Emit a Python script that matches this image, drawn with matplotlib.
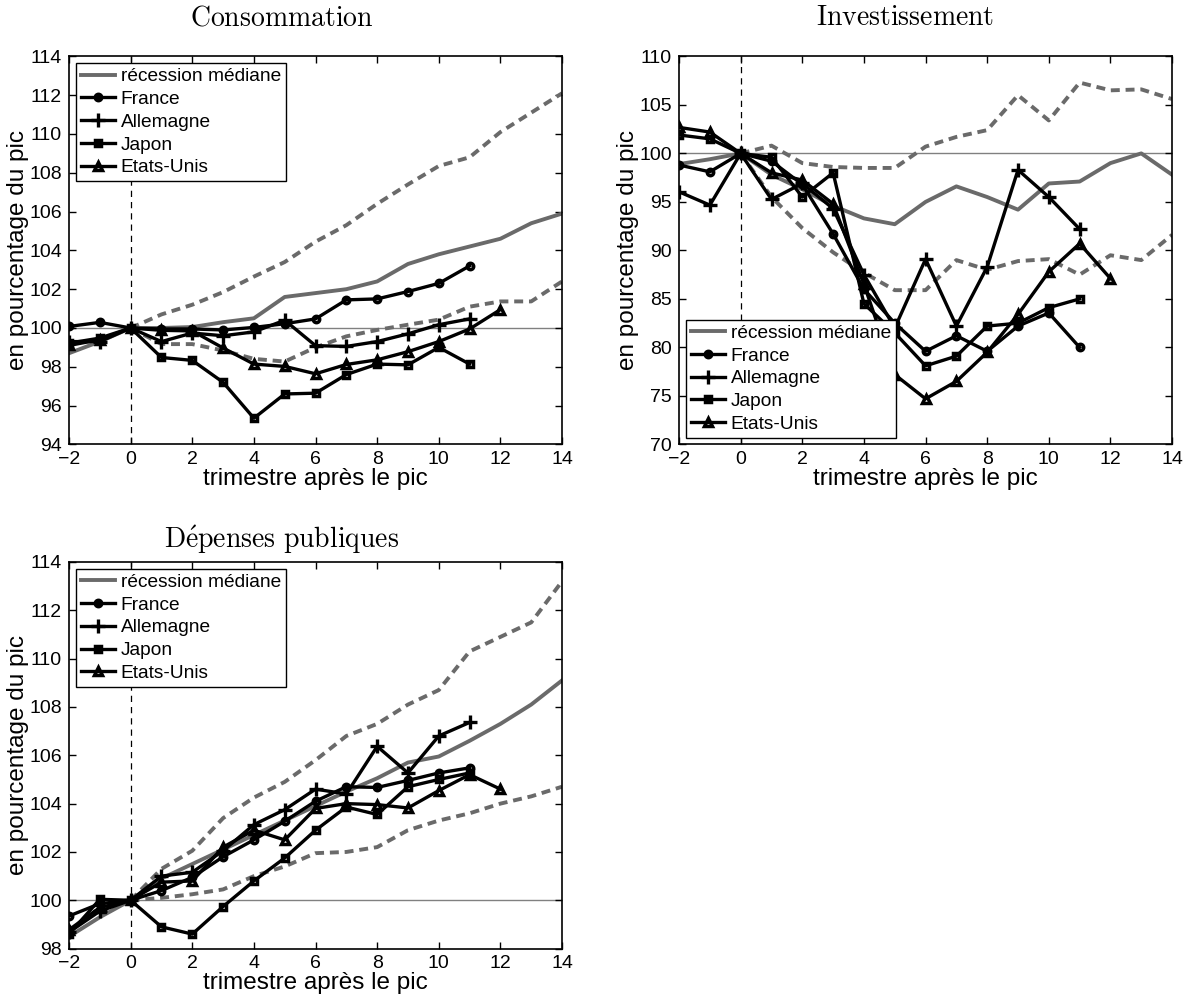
import numpy as np
import matplotlib
matplotlib.use("Agg")
import matplotlib.pyplot as plt

plt.rcParams['font.family'] = ['Liberation Sans', 'DejaVu Sans']
plt.rcParams['mathtext.fontset'] = 'cm'

GRIS = '#6a6a6a'

# trimestres autour du pic
t_pays = np.arange(-2, 12)        # -2 .. 11
t_eu = np.arange(-2, 13)          # -2 .. 12
t_med = np.arange(-2, 15)         # -2 .. 14
t_bande = np.arange(0, 15)        # 0 .. 14

# --- Consommation ---
cons_med = [98.7, 99.3, 100.0, 100.0, 100.05, 100.3, 100.5, 101.6, 101.8, 102.0, 102.4,
            103.3, 103.8, 104.2, 104.6, 105.4, 105.9]
cons_haut = [100.0, 100.7, 101.2, 101.85, 102.65, 103.4, 104.45, 105.3, 106.4, 107.4,
             108.35, 108.8, 110.1, 111.1, 112.1]
cons_bas = [100.0, 99.17, 99.17, 98.84, 98.41, 98.27, 99.0, 99.57, 99.9, 100.17, 100.43,
            101.1, 101.37, 101.37, 102.4]
cons_fr = [100.08, 100.29, 100.0, 99.95, 99.95, 99.9, 100.03, 100.22, 100.47, 101.45,
           101.5, 101.88, 102.3, 103.2]
cons_de = [99.3, 99.3, 100.0, 99.3, 99.74, 99.6, 99.8, 100.4, 99.09, 99.05, 99.3, 99.7,
           100.17, 100.47]
cons_jp = [99.22, 99.48, 100.0, 98.48, 98.33, 97.2, 95.35, 96.6, 96.64, 97.6, 98.14, 98.1,
           99.0, 98.14]
cons_us = [99.1, 99.4, 100.0, 99.88, 99.85, 98.97, 98.14, 98.02, 97.64, 98.12, 98.36,
           98.78, 99.3, 99.95, 100.95]

# --- Investissement ---
inv_med = [98.9, 99.4, 100.0, 97.8, 96.3, 94.6, 93.3, 92.7, 95.0, 96.6, 95.5, 94.2, 96.9,
           97.1, 99.0, 100.0, 97.8]
inv_haut = [100.0, 100.8, 99.0, 98.6, 98.5, 98.5, 100.7, 101.7, 102.4, 106.0, 103.4, 107.3,
            106.5, 106.6, 105.6]
inv_bas = [100.0, 95.5, 92.3, 89.8, 87.7, 85.9, 85.9, 89.0, 88.0, 88.9, 89.1, 87.5, 89.5,
           89.0, 91.6]
inv_fr = [98.8, 98.1, 100.0, 99.2, 96.8, 91.7, 86.0, 82.5, 79.6, 81.2, 79.6, 82.2, 83.55,
          80.0]
inv_de = [96.04, 94.67, 100.0, 95.26, 96.9, 94.3, 87.5, 82.0, 89.1, 82.2, 88.3, 98.3, 95.5,
          92.2]
inv_jp = [101.9, 101.5, 100.0, 99.6, 95.5, 98.0, 84.5, 81.5, 78.1, 79.1, 82.2, 82.5, 84.1,
          85.0]
inv_us = [102.68, 102.2, 100.0, 98.0, 97.25, 94.8, 86.5, 77.2, 74.7, 76.5, 79.5, 83.4,
          87.8, 90.7, 87.1]

# --- Dépenses publiques ---
dep_med = [98.5, 99.3, 100.0, 100.9, 101.5, 102.1, 102.7, 103.3, 103.9, 104.5, 105.05,
           105.7, 105.95, 106.6, 107.3, 108.1, 109.1]
dep_haut = [100.0, 101.3, 102.05, 103.4, 104.25, 104.9, 105.8, 106.8, 107.3, 108.1, 108.7,
            110.3, 110.9, 111.5, 113.2]
dep_bas = [100.0, 100.1, 100.25, 100.45, 101.0, 101.4, 101.95, 102.0, 102.2, 102.9, 103.3,
           103.6, 104.0, 104.3, 104.7]
dep_fr = [99.35, 99.86, 100.0, 100.4, 100.95, 101.8, 102.5, 103.27, 104.1, 104.7, 104.67,
          104.96, 105.27, 105.48]
dep_de = [98.68, 99.55, 100.0, 101.0, 101.16, 102.05, 103.13, 103.75, 104.6, 104.4, 106.37,
          105.27, 106.8, 107.36]
dep_jp = [98.6, 100.04, 100.0, 98.9, 98.6, 99.74, 100.8, 101.75, 102.9, 103.86, 103.55,
          104.7, 105.0, 105.27]
dep_us = [98.78, 99.7, 100.0, 100.75, 100.8, 102.2, 102.9, 102.5, 103.8, 104.0, 103.96,
          103.82, 104.54, 105.2, 104.6]

panneaux = [
    (r'$\mathrm{Consommation}$', cons_med, cons_haut, cons_bas,
     cons_fr, cons_de, cons_jp, cons_us, (94, 114), np.arange(94, 115, 2), 'upper left'),
    (r'$\mathrm{Investissement}$', inv_med, inv_haut, inv_bas,
     inv_fr, inv_de, inv_jp, inv_us, (70, 110), np.arange(70, 111, 5), 'lower left'),
    (r'$\mathrm{D\acute{e}penses\ publiques}$', dep_med, dep_haut, dep_bas,
     dep_fr, dep_de, dep_jp, dep_us, (98, 114), np.arange(98, 115, 2), 'upper left'),
]

# axes [gauche, bas, largeur, hauteur] et position du titre (x, y) de chaque sous-figure
positions = [
    [0.0581, 0.5556, 0.415, 0.388],
    [0.5716, 0.5556, 0.415, 0.388],
    [0.0581, 0.0514, 0.415, 0.3866],
]
titres_xy = [(0.237, 0.982), (0.762, 0.982), (0.237, 0.460)]

fig = plt.figure(figsize=(11.88, 10), dpi=100)

# marqueurs creux à bord épais
style = dict(color='black', lw=2.4, markersize=4.6, markerfacecolor='none',
             markeredgewidth=2.5)

for pos, txy, (titre, med, haut, bas, fr, de, jp, us, ylim, yt, loc) in zip(
        positions, titres_xy, panneaux):
    ax = fig.add_axes(pos)
    ax.axhline(100, color='#808080', lw=1.0, zorder=1)
    ax.axvline(0, color='black', lw=0.9, ls=(0, (5, 4)), zorder=1)

    ax.plot(t_med, med, color=GRIS, lw=2.8, label='récession médiane', zorder=2)
    ax.plot(t_bande, haut, color=GRIS, lw=2.8, ls=(0, (2.3, 1.5)), zorder=2)
    ax.plot(t_bande, bas, color=GRIS, lw=2.8, ls=(0, (2.3, 1.5)), zorder=2)

    ax.plot(t_pays, fr, marker='o', label='France', zorder=3, **style)
    ax.plot(t_pays, de, marker='+', label='Allemagne', zorder=3,
            **{**style, 'markersize': 9.5, 'markeredgewidth': 2.4})
    ax.plot(t_pays, jp, marker='s', label='Japon', zorder=3, **{**style, 'markersize': 4.4})
    ax.plot(t_eu, us, marker='^', label='Etats-Unis', zorder=3, **{**style, 'markersize': 5.2})

    ax.set_xlim(-2, 14)
    ax.set_ylim(*ylim)
    ax.set_xticks(np.arange(-2, 15, 2))
    ax.set_yticks(yt)
    ax.tick_params(direction='in', top=True, right=True, length=5, width=1,
                   labelsize=14)
    ax.tick_params(axis='x', pad=4.5)
    ax.tick_params(axis='y', pad=5)
    for s in ax.spines.values():
        s.set_linewidth(1.2)

    ax.set_xlabel('trimestre après le pic', fontsize=17.5, labelpad=0)
    ax.set_ylabel('en pourcentage du pic', fontsize=17.5, labelpad=0)
    fig.text(txy[0], txy[1], titre, fontsize=20, ha='center', va='center')

    leg = ax.legend(loc=loc, fontsize=13.8, frameon=True, fancybox=False,
                    handlelength=1.8, handletextpad=0.3, borderpad=0.25,
                    labelspacing=0.28, borderaxespad=0.35, framealpha=1)
    leg.get_frame().set_edgecolor('black')
    leg.get_frame().set_linewidth(1.0)

fig.savefig('out.png', dpi=100)
